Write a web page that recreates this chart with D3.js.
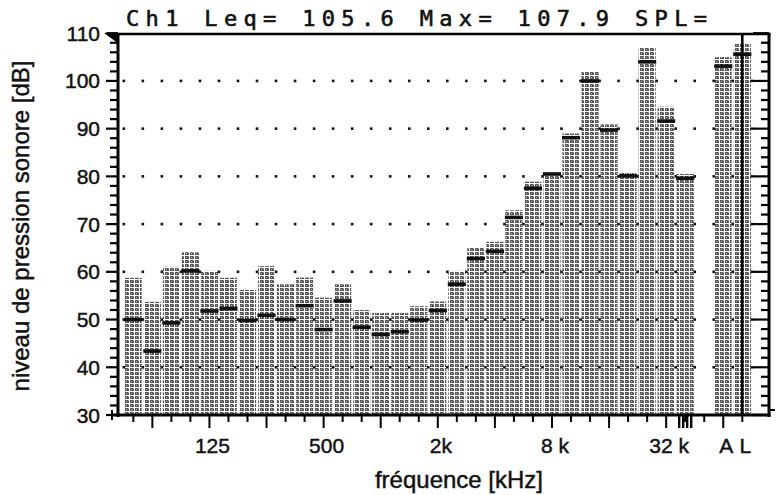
<!DOCTYPE html>
<html><head><meta charset="utf-8">
<script src="https://cdn.jsdelivr.net/npm/d3@7"></script>
<style>html,body{margin:0;padding:0;background:#fff;}svg{display:block;}</style>
</head><body>
<svg id="c" width="782" height="495"></svg>
<script>
const bands = ["50","63","80","100","125","160","200","250","315","400","500","630","800","1k","1.25k","1.6k","2k","2.5k","3.15k","4k","5k","6.3k","8k","10k","12.5k","16k","20k","25k","31.5k","40k"];
const maxVals = [58.75,53.7,61.05,64.1,60.2,58.75,56.2,61.2,57.4,58.8,54.6,57.4,52.0,51.4,51.4,52.8,53.8,60.2,65.2,66.3,72.9,78.9,80.7,89.0,102.0,90.9,80.7,107.0,94.6,80.5];
const leqVals = [50.0,43.4,49.3,60.2,51.8,52.3,49.8,50.9,50.0,52.9,47.9,53.9,48.4,46.9,47.45,49.9,51.9,57.4,62.8,64.3,71.4,77.5,80.5,88.1,100.0,89.7,80.1,104.0,91.6,79.6];
const sumKeys = ["A","L"];
const sumMax = [105.0,107.9];
const sumLeq = [103.1,105.6];
const yTicks = [30,40,50,60,70,80,90,100,110];
const gridLevels = [40,50,60,70,80,90,100];
const xLabelKeys = ["125","500","2k","8k","31.5k","A","L"];
const xLabelTexts = ["125","500","2k","8 k","32 k","A","L"];
const titleText = "Ch1 Leq= 105.6 Max= 107.9 SPL=";

const svg = d3.select("#c");
const defs = svg.append("defs");
const pat = defs.append("pattern").attr("id","stip").attr("patternUnits","userSpaceOnUse")
  .attr("width",5).attr("height",4);
pat.append("rect").attr("width",5).attr("height",4).attr("fill","#fff");
pat.append("rect").attr("width",4).attr("height",3).attr("fill","#555");
pat.append("rect").attr("x",1).attr("y",1).attr("width",1).attr("height",1).attr("fill","#bbb");
pat.append("rect").attr("x",3).attr("y",0).attr("width",1).attr("height",1).attr("fill","#a0a0a0");

const slots = bands.concat(["gap"], sumKeys);
const x = d3.scaleBand().domain(slots).range([123.8, 751.8]).padding(0);
const step = x.step();
const bw = step * 0.9;
const y = d3.scaleLinear().domain([30,110]).range([415,33.2]);
const cx = k => x(k) + step/2;

const data = bands.map((b,i)=>({k:b, max:maxVals[i], leq:leqVals[i]}))
  .concat(sumKeys.map((b,i)=>({k:b, max:sumMax[i], leq:sumLeq[i]})));

svg.append("g").selectAll("rect").data(data).join("rect")
  .attr("x", d => cx(d.k) - bw/2).attr("width", bw)
  .attr("y", d => y(d.max)).attr("height", d => y(30) - y(d.max))
  .attr("fill","url(#stip)");

svg.append("g").selectAll("rect").data(data).join("rect")
  .attr("x", d => cx(d.k) - bw/2 - 0.5).attr("width", bw + 1)
  .attr("y", d => y(d.leq) - 1.8).attr("height", 3.6)
  .attr("fill","#111");

const bounds = d3.range(slots.length + 1).map(i => x.range()[0] + i*step);
const gg = svg.append("g");
gridLevels.forEach(v => {
  gg.selectAll(null).data(bounds).join("rect")
    .attr("x", b => b - 1.3).attr("y", y(v) - 1.3).attr("width",2.6).attr("height",2.6)
    .attr("fill","#111");
});

svg.append("line").attr("x1", cx("L")).attr("x2", cx("L")).attr("y1", 33).attr("y2", 416)
  .attr("stroke","#000").attr("stroke-width",2.6);

const ax = svg.append("g").attr("stroke","#000").attr("fill","none");
ax.append("line").attr("x1",118).attr("x2",118).attr("y1",33).attr("y2",417).attr("stroke-width",3);
ax.append("line").attr("x1",769).attr("x2",769).attr("y1",33).attr("y2",417).attr("stroke-width",3);
ax.append("line").attr("x1",113).attr("x2",770.5).attr("y1",34).attr("y2",34).attr("stroke-width",2.5);
ax.append("line").attr("x1",112).attr("x2",770.5).attr("y1",415).attr("y2",415).attr("stroke-width",3);
ax.append("line").attr("x1",112).attr("x2",112).attr("y1",410).attr("y2",420).attr("stroke-width",2);
ax.append("line").attr("x1",770).attr("x2",775).attr("y1",410).attr("y2",410).attr("stroke-width",2);

const yt = d3.range(30, 111, 2);
ax.selectAll(null).data(yt).join("line")
  .attr("x1", d => d%10===0 ? 106 : 110).attr("x2",118)
  .attr("y1", d => y(d)).attr("y2", d => y(d)).attr("stroke-width",2.2);
ax.selectAll(null).data(yt).join("line")
  .attr("x1", d => d%10===0 ? 753 : 761).attr("x2",769)
  .attr("y1", d => y(d)).attr("y2", d => y(d)).attr("stroke-width",2.2);
svg.append("path").attr("d","M104,33 L119,33 L119,44 Z").attr("fill","#000");

ax.selectAll(null).data(slots).join("line")
  .attr("x1", k => cx(k)).attr("x2", k => cx(k))
  .attr("y1", 415).attr("y2", (k,i) => i%3===1 ? 428 : 422).attr("stroke-width",2);
[-6,-2,2,6].forEach(o => {
  ax.append("line").attr("x1", cx("40k")+o).attr("x2", cx("40k")+o).attr("y1",415).attr("y2",428).attr("stroke-width",2.4);
});

const font = "'Liberation Sans', Arial, Helvetica, sans-serif";
function txt(sel){ return sel.attr("font-family",font).attr("fill","#111").attr("stroke","#111").attr("stroke-width",0.45); }
txt(svg.append("g").selectAll("text").data(yTicks).join("text")
  .attr("x",100).attr("y", d => y(d)).attr("dy","0.36em")
  .attr("text-anchor","end").attr("font-size",21))
  .text(d => d);
txt(svg.append("g").selectAll("text").data(xLabelKeys).join("text")
  .attr("x", k => cx(k) + 3).attr("y", 453)
  .attr("text-anchor","middle").attr("font-size",21))
  .text((k,i) => xLabelTexts[i]);
txt(svg.append("text").attr("x",459).attr("y",488).attr("text-anchor","middle")
  .attr("font-size",24)).text("fréquence [kHz]");
txt(svg.append("text").attr("transform","translate(29,226) rotate(-90)").attr("text-anchor","middle")
  .attr("font-size",24)).text("niveau de pression sonore [dB]");
svg.append("text").attr("x",126).attr("y",26).attr("textLength",581).attr("lengthAdjust","spacing")
  .attr("font-family","'DejaVu Sans Mono', monospace").attr("font-size",22).attr("fill","#111")
  .attr("stroke","#111").attr("stroke-width",0.6)
  .text(titleText);
</script>
</body></html>
